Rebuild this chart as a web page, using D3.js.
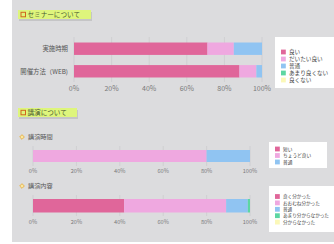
<!DOCTYPE html>
<html>
<head>
<meta charset="utf-8">
<script src="https://cdn.jsdelivr.net/npm/d3@7"></script>
<style>
  body { margin: 0; background: #fff; }
  text { font-family: "Noto Sans CJK JP", "Noto Sans", sans-serif; }
</style>
</head>
<body>
<svg id="chart" width="334" height="244"></svg>
<script>
// data
const ticks = [0, 20, 40, 60, 80, 100];

const seminarCats = ["実施時期", "開催方法（WEB)"];
const seminarKeys = ["良い", "だいたい良い", "普通", "あまり良くない", "良くない"];
const seminarVals = [
  [71, 14, 15, 0, 0],
  [88, 9, 3, 0, 0]
];

const timeKeys = ["短い", "ちょうど良い", "普通"];
const timeVals = [0, 80, 20];

const contentKeys = ["良く分かった", "おおむね分かった", "普通", "あまり分からなかった", "分からなかった"];
const contentVals = [42, 47, 10, 1, 0];

const colors = ["#e0669a", "#efa8e0", "#90c4f2", "#5cd6a2", "#fbf8b8"];

const svg = d3.select("#chart");

// background panel
svg.append("rect").attr("x", 12).attr("y", 0).attr("width", 322).attr("height", 242)
  .attr("fill", "#dcdcde");

function titleBox(x, y, w, label) {
  svg.append("rect").attr("x", x + 1).attr("y", y + 2).attr("width", w).attr("height", 9)
    .attr("fill", "#b5b5b5").attr("opacity", 0.6);
  svg.append("rect").attr("x", x).attr("y", y).attr("width", w).attr("height", 9)
    .attr("fill", "#def57c");
  svg.append("rect").attr("x", x + 3).attr("y", y + 2.3).attr("width", 4.5).attr("height", 4.5)
    .attr("fill", "none").attr("stroke", "#d0661e").attr("stroke-width", 1);
  svg.append("text").attr("x", x + 9.5).attr("y", y + 7).attr("font-size", 6.6)
    .attr("fill", "#4a5a30").text(label);
}

function subTitle(x, y, label) {
  svg.append("path").attr("d", d3.symbol(d3.symbolDiamond2, 14)())
    .attr("transform", "translate(" + x + "," + y + ")")
    .attr("fill", "#fbe7a0").attr("stroke", "#e6b450").attr("stroke-width", 1);
  svg.append("text").attr("x", x + 6).attr("y", y + 2.2).attr("font-size", 6.2)
    .attr("fill", "#555").text(label);
}

function axisRow(x, y0, y1, labelY, fontSize) {
  const g = svg.append("g");
  g.selectAll("line").data(ticks).join("line")
    .attr("x1", d => x(d)).attr("x2", d => x(d))
    .attr("y1", y0).attr("y2", y1)
    .attr("stroke", "#c8c8ca").attr("stroke-width", 0.6);
  g.selectAll("text").data(ticks).join("text")
    .attr("x", d => x(d)).attr("y", labelY)
    .attr("text-anchor", "middle").attr("font-size", fontSize)
    .attr("fill", "#7a7a7a").text(d => d + "%");
}

function stackRow(x, vals, y, h) {
  const stacked = [];
  let acc = 0;
  vals.forEach((v, i) => { stacked.push({ s: acc, e: acc + v, i: i }); acc += v; });
  svg.append("g").selectAll("rect").data(stacked.filter(d => d.e > d.s)).join("rect")
    .attr("x", d => x(d.s)).attr("width", d => x(d.e) - x(d.s))
    .attr("y", y).attr("height", h)
    .attr("fill", d => colors[d.i]);
}

// first = centre of the first row, measured from the box top
function legend(x, y, w, h, keys, first, rowH, fontSize) {
  svg.append("rect").attr("x", x).attr("y", y).attr("width", w).attr("height", h).attr("fill", "#fff");
  const g = svg.append("g");
  keys.forEach((k, i) => {
    const cy = y + first + i * rowH;
    g.append("rect").attr("x", x + 6).attr("y", cy - 2.4).attr("width", 4.8).attr("height", 4.8)
      .attr("fill", colors[i]);
    g.append("text").attr("x", x + 14).attr("y", cy + fontSize * 0.36)
      .attr("font-size", fontSize).attr("fill", "#444").text(k);
  });
}

// section 1: seminar
titleBox(18, 10, 73, "セミナーについて");

const x1 = d3.scaleLinear().domain([0, 100]).range([74, 262]);
const y1 = d3.scaleBand().domain(seminarCats).range([38, 82]).paddingInner(0.45).paddingOuter(0.2);
axisRow(x1, 37, 82, 91, 7);
seminarCats.forEach((c, i) => {
  stackRow(x1, seminarVals[i], y1(c), y1.bandwidth());
  svg.append("text").attr("x", 68).attr("y", y1(c) + y1.bandwidth() / 2 + 2.3)
    .attr("text-anchor", "end").attr("font-size", 6.4).attr("fill", "#555").text(c);
});
legend(275, 37, 60, 51, seminarKeys, 15, 7, 5.6);

// section 2: lecture
titleBox(18, 108, 59, "講演について");

const x2 = d3.scaleLinear().domain([0, 100]).range([33, 250]);

subTitle(22, 137, "講演時間");
axisRow(x2, 146, 166, 172.5, 5.6);
stackRow(x2, timeVals, 150, 12);
legend(269, 142, 58, 26, timeKeys, 7, 6.5, 4.7);

subTitle(22, 186, "講演内容");
axisRow(x2, 195, 216, 223.5, 5.6);
stackRow(x2, contentVals, 199, 13.5);
legend(269, 186, 66, 46, contentKeys, 10.5, 6.4, 4.6);
</script>
</body>
</html>
